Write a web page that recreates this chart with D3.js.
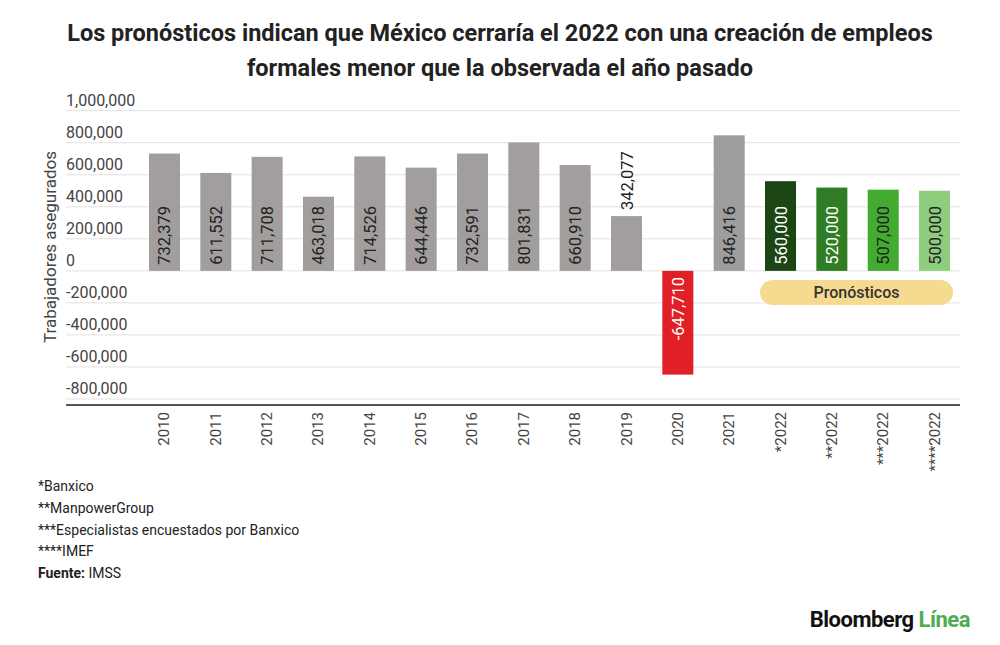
<!DOCTYPE html>
<html>
<head>
<meta charset="utf-8">
<script src="https://cdn.jsdelivr.net/npm/d3@7"></script>
<style>
  body { margin: 0; background: #fff; }
  svg { display: block; font-family: Roboto, "Noto Sans", sans-serif; }
</style>
</head>
<body>
<svg id="chart" width="1000" height="645"></svg>
<script>
// Data
var categories = ["2010", "2011", "2012", "2013", "2014", "2015", "2016", "2017",
  "2018", "2019", "2020", "2021", "*2022", "**2022", "***2022", "****2022"];
var values = [732379, 611552, 711708, 463018, 714526, 644446, 732591, 801831,
  660910, 342077, -647710, 846416, 560000, 520000, 507000, 500000];
var barColors = ["#a19e9d", "#a19e9d", "#a19e9d", "#a19e9d", "#a19e9d", "#a19e9d", "#a19e9d", "#a19e9d",
  "#a19e9d", "#a19e9d", "#e01f26", "#9d9d9d", "#1b4512", "#2f7d24", "#44ab31", "#8fcd7e"];
var labelColors = ["#222", "#222", "#222", "#222", "#222", "#222", "#222", "#222",
  "#222", "#222", "#fff", "#222", "#fff", "#fff", "#222", "#222"];
var yTicks = [-800000, -600000, -400000, -200000, 0, 200000, 400000, 600000, 800000, 1000000];
var footnotes = ["*Banxico", "**ManpowerGroup", "***Especialistas encuestados por Banxico", "****IMEF"];

var svg = d3.select("#chart");
// plain hyphen for negatives, like the original
var fmt = d => d3.format(",")(d).replace("\u2212", "-");

// Title
var title = svg.append("text")
  .attr("x", 500)
  .attr("text-anchor", "middle")
  .attr("font-size", 23.5)
  .attr("font-weight", "bold")
  .attr("fill", "#222");
title.append("tspan").attr("x", 500).attr("y", 41)
  .text("Los pronósticos indican que México cerraría el 2022 con una creación de empleos");
title.append("tspan").attr("x", 500).attr("y", 76)
  .text("formales menor que la observada el año pasado");

// Scales
var x = d3.scaleBand()
  .domain(categories)
  .range([138.8, 960.2])
  .paddingInner(0.396)
  .paddingOuter(0.198);

var y = d3.scaleLinear()
  .domain([-800000, 1000000])
  .range([399, 110.7]);

// Gridlines + y labels
var grid = svg.append("g");
grid.selectAll("line")
  .data(yTicks)
  .enter().append("line")
  .attr("x1", 66)
  .attr("x2", 960)
  .attr("y1", d => y(d))
  .attr("y2", d => y(d))
  .attr("stroke", "#e2e2e2")
  .attr("stroke-width", 1);

grid.selectAll("text")
  .data(yTicks)
  .enter().append("text")
  .attr("x", 66)
  .attr("y", d => y(d) - 5)
  .attr("font-size", 16)
  .attr("fill", "#444")
  .text(d => fmt(d));

// Y axis title
svg.append("text")
  .attr("transform", "translate(56," + 247 + ") rotate(-90)")
  .attr("text-anchor", "middle")
  .attr("font-size", 17)
  .attr("fill", "#444")
  .text("Trabajadores asegurados");

// Bars
svg.append("g").selectAll("rect")
  .data(values)
  .enter().append("rect")
  .attr("x", (d, i) => x(categories[i]))
  .attr("width", x.bandwidth())
  .attr("y", d => y(Math.max(0, d)))
  .attr("height", d => Math.abs(y(d) - y(0)))
  .attr("fill", (d, i) => barColors[i]);

// Value labels (rotated)
svg.append("g").selectAll("text")
  .data(values)
  .enter().append("text")
  .attr("transform", function (d, i) {
    var cx = x(categories[i]) + x.bandwidth() / 2 + 6;
    var yy;
    if (d < 0) yy = y(0) + 6;
    else if (d < 400000) yy = y(d) - 6;
    else yy = y(0) - 6;
    return "translate(" + cx + "," + yy + ") rotate(-90)";
  })
  .attr("text-anchor", d => d < 0 ? "end" : "start")
  .attr("font-size", 16.5)
  .attr("fill", (d, i) => (d > 0 && d < 400000) ? "#222" : labelColors[i])
  .text(d => fmt(d));

// Bottom axis line
svg.append("line")
  .attr("x1", 66).attr("x2", 960)
  .attr("y1", 405).attr("y2", 405)
  .attr("stroke", "#555")
  .attr("stroke-width", 2);

// X tick labels
svg.append("g").selectAll("text")
  .data(categories)
  .enter().append("text")
  .attr("transform", d => "translate(" + (x(d) + x.bandwidth() / 2 + 5) + ",412) rotate(-90)")
  .attr("text-anchor", "end")
  .attr("font-size", 15)
  .attr("fill", "#444")
  .text(d => d);

// Pronósticos pill
var pillX1 = x("*2022") - 5, pillX2 = x("****2022") + x.bandwidth() + 3;
svg.append("rect")
  .attr("x", pillX1)
  .attr("y", 280)
  .attr("width", pillX2 - pillX1)
  .attr("height", 25)
  .attr("rx", 12.5)
  .attr("fill", "#f6da8f");
svg.append("text")
  .attr("x", (pillX1 + pillX2) / 2)
  .attr("y", 298)
  .attr("text-anchor", "middle")
  .attr("font-size", 16)
  .attr("font-weight", 500)
  .attr("fill", "#333")
  .text("Pronósticos");

// Footnotes
var notes = svg.append("g").attr("font-size", 14).attr("fill", "#222");
footnotes.forEach(function (t, i) {
  notes.append("text").attr("x", 38).attr("y", 491 + i * 21.8).text(t);
});
var src = notes.append("text").attr("x", 38).attr("y", 491 + 4 * 21.8);
src.append("tspan").attr("font-weight", "bold").text("Fuente: ");
src.append("tspan").text("IMSS");

// Logo
var logo = svg.append("text")
  .attr("x", 970)
  .attr("y", 627)
  .attr("text-anchor", "end")
  .attr("font-size", 22)
  .attr("font-weight", "bold")
  .attr("letter-spacing", -0.5);
logo.append("tspan").attr("fill", "#111").text("Bloomberg ");
logo.append("tspan").attr("fill", "#4cae4c").text("Línea");
</script>
</body>
</html>
